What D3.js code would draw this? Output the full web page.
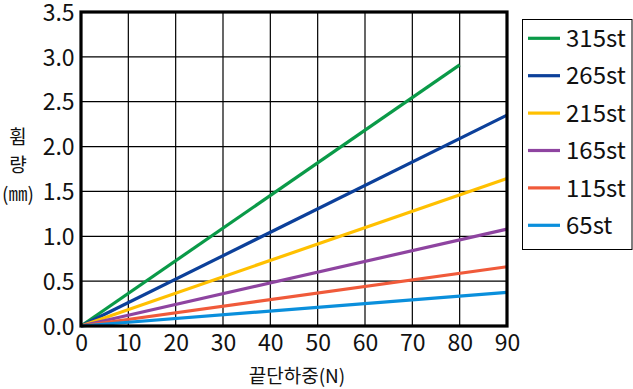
<!DOCTYPE html>
<html><head><meta charset="utf-8">
<script src="https://cdn.jsdelivr.net/npm/d3@7"></script>
<style>body{margin:0;background:#fff;}svg{display:block;font-family:"Noto Sans CJK KR","Noto Sans",sans-serif;}</style>
</head><body>
<svg id="c" width="633" height="389"></svg>
<script>
const seriesNames = ["315st","265st","215st","165st","115st","65st"];
const seriesColors = ["#0a9a48","#0c409a","#ffc000","#8e44a0","#f05a3a","#0a8fdc"];
const loadX = [[0,80],[0,90],[0,90],[0,90],[0,90],[0,90]];
const deflection = [[0,2.91],[0,2.35],[0,1.645],[0,1.08],[0,0.66],[0,0.375]];
const xTicks = [0,10,20,30,40,50,60,70,80,90];
const yTicks = [0,0.5,1,1.5,2,2.5,3,3.5];
const xTitle = "끝단하중(N)";
const yTitle = ["휨","량","(㎜)"];

const svg = d3.select("#c");
const L=81,R=507,T=12,B=326;
const x = d3.scaleLinear().domain([0,90]).range([L,R]);
const y = d3.scaleLinear().domain([0,3.5]).range([B,T]);

// grid
svg.append("g").selectAll("line").data(xTicks).join("line")
  .attr("x1",d=>x(d)).attr("x2",d=>x(d)).attr("y1",T).attr("y2",B)
  .attr("stroke","#000").attr("stroke-width",1.2);
svg.append("g").selectAll("line").data(yTicks).join("line")
  .attr("x1",L).attr("x2",R).attr("y1",d=>y(d)).attr("y2",d=>y(d))
  .attr("stroke","#000").attr("stroke-width",1.2);

// lines
const line = d3.line().x(d=>x(d[0])).y(d=>y(d[1]));
seriesNames.forEach((n,i)=>{
  const pts = loadX[i].map((v,j)=>[v,deflection[i][j]]);
  svg.append("path").datum(pts).attr("d",line).attr("fill","none")
    .attr("stroke",seriesColors[i]).attr("stroke-width",3.2);
});

// frame
svg.append("rect").attr("x",L).attr("y",T).attr("width",R-L).attr("height",B-T)
  .attr("fill","none").attr("stroke","#000").attr("stroke-width",3.2);

// axes labels
const xa = d3.axisBottom(x).tickValues(xTicks).tickSize(0).tickFormat(d3.format("d"));
const gx = svg.append("g").attr("transform",`translate(0,${B})`).call(xa);
gx.select(".domain").remove();
gx.selectAll("text").attr("font-size",23).attr("fill","#111").attr("dy","0.95em")
  .attr("font-family","'Noto Sans CJK KR','Noto Sans',sans-serif");
const ya = d3.axisLeft(y).tickValues(yTicks).tickSize(0).tickFormat(d3.format(".1f"));
const gy = svg.append("g").attr("transform",`translate(${L},0)`).call(ya);
gy.select(".domain").remove();
gy.selectAll("text").attr("font-size",23).attr("fill","#111").attr("dx","-0.15em").attr("dy","0.36em")
  .attr("font-family","'Noto Sans CJK KR','Noto Sans',sans-serif");

svg.append("text").attr("x",(L+R)/2+3).attr("y",383).attr("text-anchor","middle")
  .attr("font-size",19).attr("fill","#111").text(xTitle);
svg.append("g").selectAll("text").data(yTitle).join("text")
  .attr("x",18).attr("y",(d,i)=>[144,172,201][i]).attr("text-anchor","middle")
  .attr("font-size",19).attr("fill","#111").text(d=>d);

// legend
svg.append("rect").attr("x",522.5).attr("y",19.5).attr("width",109.5).attr("height",230)
  .attr("fill","#fff").attr("stroke","#000").attr("stroke-width",1);
const lg = svg.append("g").selectAll("g").data(seriesNames).join("g")
  .attr("transform",(d,i)=>`translate(0,${38.3+i*37.4})`);
lg.append("line").attr("x1",528).attr("x2",560).attr("stroke",(d,i)=>seriesColors[i]).attr("stroke-width",3.2);
lg.append("text").attr("x",566).attr("dy","0.36em").attr("font-size",24).attr("fill","#111").text(d=>d);
</script>
</body></html>
